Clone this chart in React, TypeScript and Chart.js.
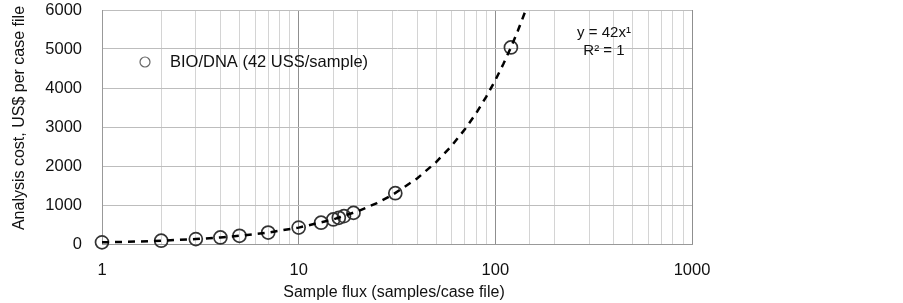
import React, { useEffect, useRef } from "react";
import { Chart, registerables } from "chart.js";

Chart.register(...registerables);

// Observed samples (sample flux vs analysis cost)
const sampleFlux = [1, 2, 3, 4, 5, 7, 10, 13, 15, 16, 17, 19, 31, 120];
const analysisCost = [42, 84, 126, 168, 210, 294, 420, 546, 630, 672, 714, 798, 1302, 5040];

// Trendline points (y = 42x)
const trendX = [1, 1.5, 2, 3, 4, 5, 7, 10, 15, 20, 25, 30, 40, 50, 60, 70, 80, 90, 100, 110, 120, 130, 143];
const trendY = [42, 63, 84, 126, 168, 210, 294, 420, 630, 840, 1050, 1260, 1680, 2100, 2520, 2940, 3360, 3780, 4200, 4620, 5040, 5460, 6006];

const xMajorTicks = [1, 10, 100, 1000];
const seriesLabel = "BIO/DNA (42 USS/sample)";
const equationLines = ["y = 42x¹", "R² = 1"];
const xTitle = "Sample flux (samples/case file)";
const yTitle = "Analysis cost, US$ per case file";

const FONT = "'Liberation Sans', Arial, sans-serif";

export default function App() {
  const ref = useRef<HTMLCanvasElement | null>(null);

  useEffect(() => {
    if (!ref.current) return;
    const overlay = {
      id: "overlay",
      afterDraw(chart: any) {
        const ctx = chart.ctx;
        ctx.save();
        // legend
        ctx.beginPath();
        ctx.arc(145, 62, 5, 0, Math.PI * 2);
        ctx.strokeStyle = "#666";
        ctx.lineWidth = 1.2;
        ctx.stroke();
        ctx.fillStyle = "#111";
        ctx.font = `16.5px ${FONT}`;
        ctx.textAlign = "left";
        ctx.textBaseline = "middle";
        ctx.fillText(seriesLabel, 170, 62);
        // equation
        ctx.font = `15px ${FONT}`;
        ctx.textAlign = "center";
        ctx.fillText(equationLines[0], 604, 33);
        ctx.fillText(equationLines[1], 604, 51);
        // x title
        ctx.font = `16px ${FONT}`;
        ctx.fillText(xTitle, 394, 293);
        // y title
        ctx.font = `16px ${FONT}`;
        ctx.translate(20, 118);
        ctx.rotate(-Math.PI / 2);
        ctx.fillText(yTitle, 0, 0);
        ctx.restore();
      },
    };

    const chart = new Chart(ref.current, {
      type: "scatter",
      data: {
        datasets: [
          {
            type: "line",
            label: "trend",
            data: trendX.map((x, i) => ({ x, y: trendY[i] })),
            borderColor: "#000",
            borderWidth: 2.5,
            borderDash: [7, 6],
            pointRadius: 0,
            fill: false,
            tension: 0,
            order: 0,
          },
          {
            label: seriesLabel,
            data: sampleFlux.map((x, i) => ({ x, y: analysisCost[i] })),
            pointRadius: 6.5,
            pointBorderWidth: 1.7,
            pointBackgroundColor: "rgba(0,0,0,0)",
            pointBorderColor: "#333",
            showLine: false,
            clip: false,
            order: 1,
          },
        ],
      },
      options: {
        responsive: false,
        animation: false,
        devicePixelRatio: 1,
        layout: { padding: { top: 10, right: 211, left: 0, bottom: 0 }, autoPadding: false },
        plugins: {
          legend: { display: false },
          tooltip: { enabled: false },
        },
        scales: {
          x: {
            type: "logarithmic",
            min: 1,
            max: 1000,
            afterFit: (s: any) => {
              s.height = 59;
              s.paddingLeft = 0;
              s.paddingRight = 0;
            },
            border: { color: "#999", width: 1 },
            grid: {
              drawTicks: false,
              color: (c: any) =>
                c.tick && xMajorTicks.includes(c.tick.value) ? "#8f8f8f" : "#d4d4d4",
              lineWidth: 1,
            },
            ticks: {
              autoSkip: false,
              maxRotation: 0,
              padding: 17,
              color: "#111",
              font: { family: FONT, size: 16.5 },
              callback: (v: any) => (xMajorTicks.includes(Number(v)) ? String(v) : ""),
            },
          },
          y: {
            type: "linear",
            min: 0,
            max: 6000,
            afterFit: (s: any) => {
              s.width = 102;
              s.paddingTop = 0;
              s.paddingBottom = 0;
            },
            border: { color: "#999", width: 1 },
            grid: { drawTicks: false, color: "#bdbdbd", lineWidth: 1 },
            ticks: {
              stepSize: 1000,
              padding: 20,
              color: "#111",
              font: { family: FONT, size: 16.5 },
              callback: (v: any) => String(v),
            },
          },
        },
      },
      plugins: [overlay],
    });
    return () => chart.destroy();
  }, []);

  return (
    <div style={{ position: "fixed", left: 0, top: 0, width: 903, height: 303, background: "#fff" }}>
      <canvas ref={ref} width={903} height={303} style={{ display: "block" }} />
    </div>
  );
}
